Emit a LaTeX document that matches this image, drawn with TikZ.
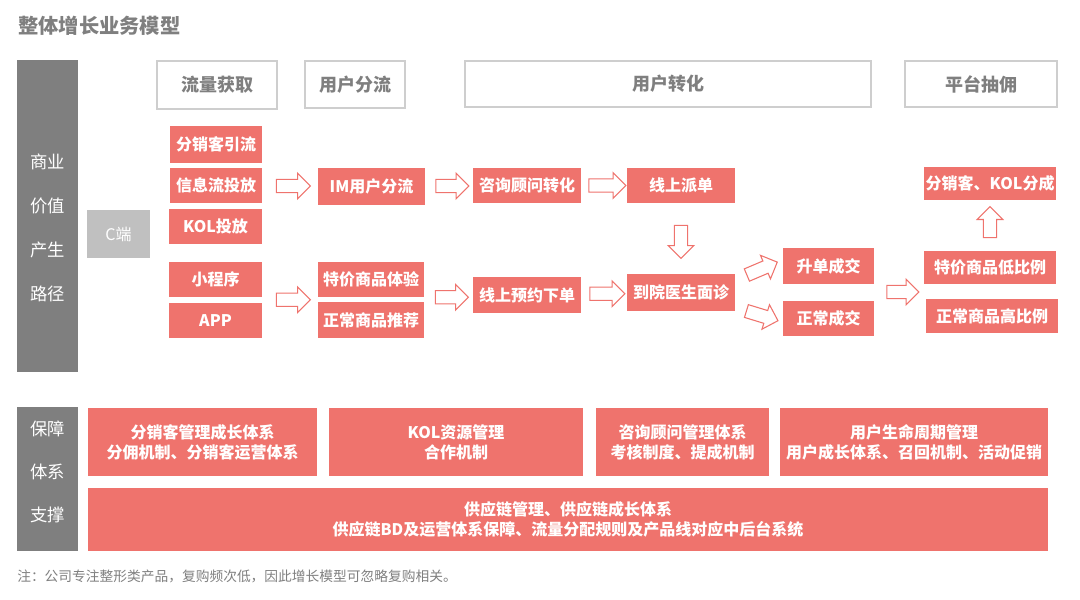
\documentclass[tikz,border=0pt]{standalone}
\usepackage{fontspec}
\setmainfont{Noto Sans CJK SC}
\usetikzlibrary{calc,shapes.arrows}
\definecolor{salmon}{RGB}{239,115,109}
\definecolor{slate}{RGB}{127,127,127}
\definecolor{pale}{RGB}{192,192,192}
\definecolor{rim}{RGB}{206,206,206}

\begin{document}
\begin{tikzpicture}[x=0.75pt, y=-0.75pt,
        flow/.style={fill=salmon, text=white, font=\bfseries\fontsize{12}{15}\selectfont, inner sep=0pt, align=center},
        stage/.style={draw=rim, line width=0.9pt, text=slate, font=\bfseries\fontsize{13.5}{15}\selectfont, inner sep=0pt},
        side/.style={fill=slate, inner sep=0pt},
        sidetext/.style={text=white, font=\fontsize{13}{33}\selectfont, align=center, inner sep=0pt},
        hollow/.style={single arrow, draw=salmon, fill=white, line width=0.8pt, inner xsep=0pt, inner ysep=4.6pt,
            single arrow head extend=4.6pt}]
        \useasboundingbox (0,0) rectangle (1080,599);
        % box by centre and size in pixels
        \newcommand{\flowbox}[6]{
            \node[flow, minimum width=#4*0.75pt, minimum height=#5*0.75pt] (#1) at (#2,#3) {#6};
        }
        \newcommand{\hollowat}[4]{
            \node[hollow, minimum height=#3*0.75pt, rotate=#4] (#1) at #2 {};
        }

        % title and note
        \node[anchor=west, text=slate, font=\bfseries\fontsize{15.2}{18}\selectfont, inner sep=0pt] (title) at (18,26) {整体增长业务模型};
        \node[anchor=west, text=slate, font=\fontsize{10.3}{12}\selectfont, inner sep=0pt] (note) at (17,576)
            {注：公司专注整形类产品，复购频次低，因此增长模型可忽略复购相关。};

        % side bars
        \node[side, minimum width=61*0.75pt, minimum height=312*0.75pt] (path) at (47.5,216) {};
        \node[sidetext] (pathtext) at (47.5,228) {商业\\价值\\产生\\路径};
        \node[side, minimum width=61*0.75pt, minimum height=144*0.75pt] (base) at (47.5,479) {};
        \node[sidetext, font=\fontsize{13}{32.5}\selectfont] (basetext) at (47.5,472) {保障\\体系\\支撑};
        \node[fill=pale, text=white, font=\fontsize{12}{14}\selectfont, minimum width=63*0.75pt, minimum height=48*0.75pt,
            inner sep=0pt] (cside) at (118.5,234) {C端};

        % stage headers
        \node[stage, minimum width=120*0.75pt, minimum height=48*0.75pt] (h1) at (217,85) {流量获取};
        \node[stage, minimum width=100*0.75pt, minimum height=47*0.75pt] (h2) at (355,84.5) {用户分流};
        \node[stage, minimum width=406*0.75pt, minimum height=46*0.75pt] (h3) at (668,84) {用户转化};
        \node[stage, minimum width=152*0.75pt, minimum height=46*0.75pt] (h4) at (981,84) {平台抽佣};

        % traffic sources
        \flowbox{src1}{216}{144.5}{92}{37}{分销客引流}
        \flowbox{src2}{216}{185.5}{92}{35}{信息流投放}
        \flowbox{src3}{215.5}{226.5}{93}{35}{KOL投放}
        \flowbox{src4}{215.5}{279.5}{93}{35}{小程序}
        \flowbox{src5}{215.5}{320.5}{93}{35}{APP}

        % user split
        \flowbox{im}{371.5}{186.5}{107}{37}{IM用户分流}
        \flowbox{tejia}{371}{279.5}{106}{35}{特价商品体验}
        \flowbox{tuijian}{371}{320}{106}{36}{正常商品推荐}

        % conversion
        \flowbox{zixun}{527}{185.5}{108}{35}{咨询顾问转化}
        \flowbox{paidan}{681}{185.5}{108}{35}{线上派单}
        \flowbox{yuyue}{527}{295}{108}{36}{线上预约下单}
        \flowbox{daoyuan}{681}{292.5}{108}{37}{到院医生面诊}
        \flowbox{shengdan}{828.5}{266}{91}{36}{升单成交}
        \flowbox{chengjiao}{828.5}{318.5}{91}{35}{正常成交}

        % commission
        \flowbox{fencheng}{990}{183.5}{132}{33}{分销客、KOL分成}
        \flowbox{dibili}{990}{267.5}{132}{33}{特价商品低比例}
        \flowbox{gaobili}{992}{316}{132}{34}{正常商品高比例}

        % hollow arrows
        \hollowat{a1}{($(src2.east)!0.5!(im.west)$)}{34}{0}
        \hollowat{a2}{($(im.east)!0.5!(zixun.west)$)}{33}{0}
        \hollowat{a3}{($($(src4.south east)!0.5!(src5.north east)$)!0.5!($(tejia.south west)!0.5!(tuijian.north west)$)$)}{34}{0}
        \hollowat{a4}{($($(tejia.south east)!0.5!(tuijian.north east)$)!0.5!(yuyue.west)$)}{33}{0}
        \hollowat{a5}{($(zixun.east)!0.5!(paidan.west)$)}{37}{0}
        \hollowat{a6}{($(yuyue.east)!0.5!(daoyuan.west)$)}{35}{0}
        \hollowat{a7}{($(paidan.south)!0.5!(daoyuan.north)$)}{33}{-90}
        \hollowat{a8}{($(daoyuan.north east)!0.5!(shengdan.west)$)}{33}{23}
        \hollowat{a9}{($(daoyuan.south east)!0.5!(chengjiao.west)$)}{33}{-17}
        \hollowat{a10}{($($(shengdan.south east)!0.5!(chengjiao.north east)$)!0.5!($(dibili.south west)!0.5!(gaobili.north west)$)$)}{32}{0}
        \hollowat{a11}{($(dibili.north)!0.5!(fencheng.south)$)}{31}{90}

        % support systems
        \flowbox{sup1}{202.5}{442}{229}{68}{分销客管理成长体系\\分佣机制、分销客运营体系}
        \flowbox{sup2}{456}{442}{254}{68}{KOL资源管理\\合作机制}
        \flowbox{sup3}{682.5}{442}{173}{68}{咨询顾问管理体系\\考核制度、提成机制}
        \flowbox{sup4}{914}{442}{268}{68}{用户生命周期管理\\用户成长体系、召回机制、活动促销}
        \flowbox{sup5}{568}{519.5}{960}{63}{供应链管理、供应链成长体系\\供应链BD及运营体系保障、流量分配规则及产品线对应中后台系统}
    \end{tikzpicture}
\end{document}
